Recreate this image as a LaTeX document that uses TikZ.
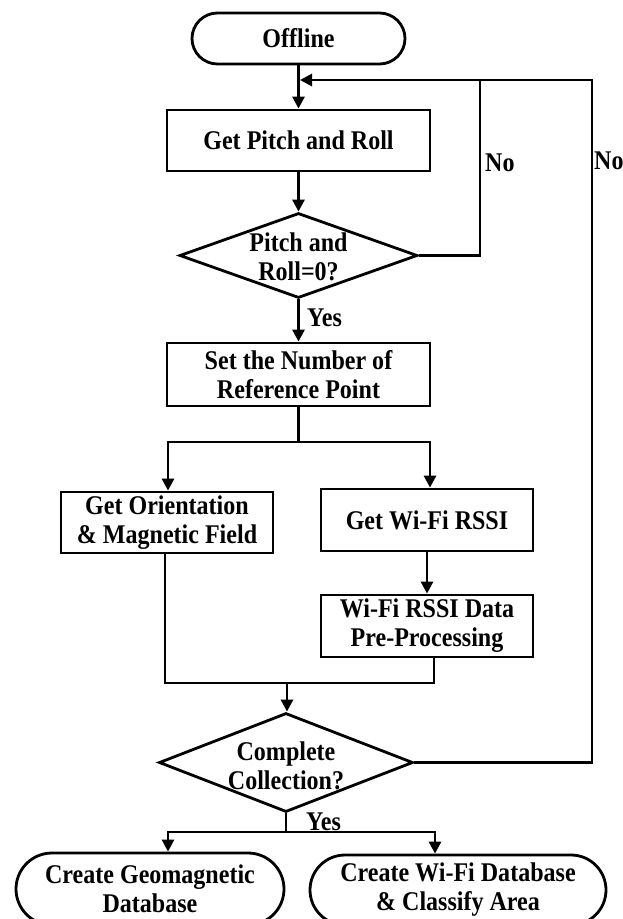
\documentclass[tikz,border=0pt]{standalone}
\usepackage{fontspec}
\setmainfont{Liberation Serif}[FakeStretch=0.89]
\usetikzlibrary{shapes.geometric,shapes.misc,arrows.meta}
\tikzset{
  txt/.style={font=\bfseries\fontsize{27}{29}\selectfont, align=center, inner sep=0pt},
  procbox/.style={txt, draw, rectangle, line width=2.8pt},
  term/.style={txt, draw, rounded rectangle, line width=2.8pt},
  dia/.style={draw, diamond, line width=2.8pt, inner sep=0pt},
  conn/.style={line width=2.8pt},
  flow/.style={conn, -{Triangle[length=12pt,width=12pt]}},
}
\begin{document}
\begin{tikzpicture}[x=1pt,y=-1pt]
\useasboundingbox (0,0) rectangle (622,919);
\clip (0,0) rectangle (622,919);

% nodes
\node[term, minimum width=213pt, minimum height=51pt] (off) at (298.5,38.5) {Offline};
\node[procbox, minimum width=263pt, minimum height=61pt] (p1) at (298.5,140.5) {Get Pitch and Roll};
\node[dia, minimum width=238pt, minimum height=85pt] (d1) at (298.5,255.5) {};
\node[txt] (d1t) at (298.5,257) {Pitch and\\Roll=0?};
\node[procbox, minimum width=263pt, minimum height=63pt] (s1) at (298.5,374.5) {Set the Number of\\Reference Point};
\node[procbox, minimum width=212pt, minimum height=61pt] (o1) at (167,522.5) {Get Orientation\\\& Magnetic Field};
\node[procbox, minimum width=212pt, minimum height=62pt] (w1) at (427,520) {Get Wi-Fi RSSI};
\node[procbox, minimum width=212pt, minimum height=62pt] (w2) at (427,626) {Wi-Fi RSSI Data\\Pre-Processing};
\node[dia, minimum width=254pt, minimum height=99pt] (d2) at (286,762.5) {};
\node[txt] (d2t) at (286,766) {Complete\\Collection?};
\node[term, minimum width=268pt, minimum height=72pt] (c1) at (150,889) {Create Geomagnetic\\Database};
\node[term, minimum width=296pt, minimum height=70pt] (c2) at (458,890) {Create Wi-Fi Database\\\& Classify Area};

% labels
\node[txt, anchor=west] (no1) at (485,163) {No};
\node[txt, anchor=west] (no2) at (594,161) {No};
\node[txt, anchor=west] (yes1) at (307,318) {Yes};
\node[txt, anchor=west] (yes2) at (306,822) {Yes};

% coordinates
\coordinate (fb) at (300,80);
\coordinate (r1) at (480,80);
\coordinate (r2) at (592,80);
\coordinate (b1) at (298.5,442);
\coordinate (m1) at (287,683);
\coordinate (b2) at (286,832);

% connectors
\draw[flow] (off.south) -- (p1.north);
\draw[flow] (p1.south) -- (d1.north);
\draw[flow] (d1.south) -- (s1.north);
\draw[conn] (d1.east) -| (r1);
\draw[flow] (d2.east) -| (r2) -- (fb);
\draw[conn] (s1.south) -- (b1);
\draw[flow] (b1) -| ([xshift=1pt]o1.north);
\draw[flow] (b1) -| ([xshift=3pt]w1.north);
\draw[flow] (w1.south) -- (w2.north);
\draw[conn] ([xshift=-2pt]o1.south) |- (m1);
\draw[conn] ([xshift=7pt]w2.south) |- (m1);
\draw[flow] (m1) -- (m1 |- d2.north);
\draw[conn] (d2.south) -- (b2);
\draw[flow] (b2) -| ([xshift=18pt]c1.north);
\draw[flow] (b2) -| ([xshift=-23pt]c2.north);
\end{tikzpicture}
\end{document}
